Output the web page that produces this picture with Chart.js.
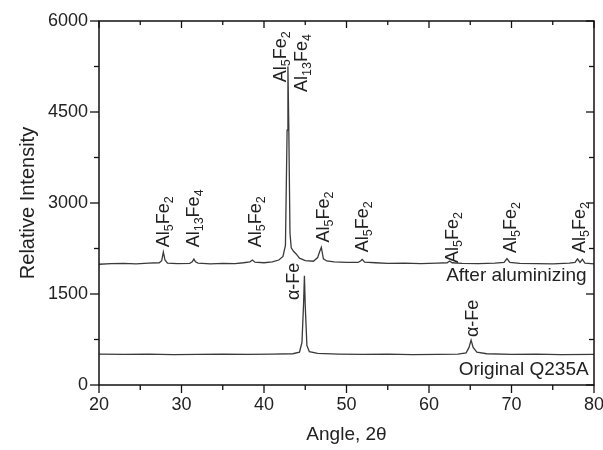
<!DOCTYPE html>
<html>
<head>
<meta charset="utf-8">
<script src="https://cdn.jsdelivr.net/npm/chart.js@4/dist/chart.umd.min.js"></script>
<style>
  html, body { margin: 0; padding: 0; background: #fff; }
  #wrap { width: 603px; height: 450px; position: relative; }
</style>
</head>
<body>
<div id="wrap"><canvas id="xrd"></canvas></div>
<script>
// XRD patterns: Q235A steel before and after aluminizing

const afterAngle = [20, 21.5, 23, 24.5, 26, 27.3, 27.6, 27.8, 28.0, 28.3, 29.5, 31.0, 31.3, 31.5, 31.7, 32.0,
  33.5, 35, 36.5, 37.5, 38.3, 38.6, 38.9, 40.0, 41.0, 41.8, 42.3, 42.6, 42.8, 42.9, 43.0, 43.15, 43.3, 43.6,
  43.9, 44.3, 45.0, 46.0, 46.5, 46.75, 46.95, 47.2, 47.6, 48.5, 50, 51.4, 51.7, 51.9, 52.2, 53.5, 55, 57,
  59, 61, 62.2, 62.5, 62.8, 64, 66, 68, 69.1, 69.45, 69.8, 71, 73, 75, 77, 77.7, 78.0, 78.3, 78.6, 78.9,
  79.3, 80];
const afterIntensity = [1990, 2000, 2005, 1995, 2010, 2015, 2050, 2190, 2060, 2010, 2000, 2005, 2030, 2075, 2030, 2010,
  1995, 2005, 2000, 2015, 2030, 2060, 2025, 2015, 2030, 2060, 2120, 2300, 4200, 5250, 4300, 2500, 2260, 2200,
  2160, 2090, 2050, 2040, 2100, 2200, 2270, 2080, 2045, 2030, 2020, 2020, 2045, 2070, 2025, 2015, 2005, 2010,
  2000, 2010, 2015, 2045, 2015, 2005, 2000, 2010, 2020, 2085, 2020, 2005, 2000, 1995, 2010, 2020, 2080, 2020,
  2070, 2010, 2005, 1995];

const origAngle = [20, 23, 26, 29, 32, 35, 38, 41, 43.5, 44.3, 44.6, 44.8, 44.9, 45.0, 45.2, 45.5, 46.5, 49,
  52, 55, 58, 61, 63.5, 64.5, 64.85, 65.1, 65.35, 65.8, 67, 70, 73, 76, 80];
const origIntensity = [510, 505, 510, 500, 505, 510, 505, 510, 515, 540, 700, 1350, 1800, 1300, 650, 550, 520, 510,
  505, 510, 500, 505, 510, 530, 620, 740, 620, 540, 515, 505, 510, 500, 505];

// tick values
const xMajor = [20, 30, 40, 50, 60, 70, 80];
const xMinor = [25, 35, 45, 55, 65, 75];
const yMajor = [0, 1500, 3000, 4500, 6000];
const yMinor = [750, 2250, 3750, 5250];

// peak labels: angle, intensity at the foot of the text, text (_n = subscript)
const peakAngle     = [27.75, 31.35, 38.9, 41.85, 44.45, 47.1, 51.8, 62.7, 69.7, 78.1, 43.5, 65.1];
const peakIntensity = [2270, 2270, 2270, 4990, 4830, 2350, 2190, 2010, 2175, 2175, 1400, 790];
const peakText      = ['Al_5Fe_2', 'Al_13Fe_4', 'Al_5Fe_2', 'Al_5Fe_2', 'Al_13Fe_4', 'Al_5Fe_2', 'Al_5Fe_2',
  'Al_5Fe_2', 'Al_5Fe_2', 'Al_5Fe_2', 'α-Fe', 'α-Fe'];

// curve names: right edge angle, intensity of text middle
const curveName      = ['After aluminizing', 'Original Q235A'];
const curveNameAngle = [79.1, 79.35];
const curveNameY     = [1800, 250];

const FONT = "'Liberation Sans', Arial, sans-serif";
const INK = '#222';

function toPoints(xs, ys) {
  return xs.map((x, i) => ({ x, y: ys[i] }));
}

/* ── rotated label with subscripts ───────────────────── */
function drawVertLabel(ctx, px, py, spec) {
  const parts = spec.split(/(_\d+)/).filter(p => p.length);
  const cap = 13;
  ctx.save();
  ctx.translate(px, py);
  ctx.rotate(-Math.PI / 2);
  ctx.fillStyle = INK;
  ctx.textBaseline = 'alphabetic';
  ctx.textAlign = 'left';
  let x = 0;
  parts.forEach(p => {
    const sub = p[0] === '_';
    const txt = sub ? p.slice(1) : p;
    ctx.font = (sub ? '12.5px ' : '18px ') + FONT;
    ctx.fillText(txt, x, sub ? cap / 2 + 4 : cap / 2);
    x += ctx.measureText(txt).width;
  });
  ctx.restore();
}

/* ── frame, ticks and annotations ────────────────────── */
const decorPlugin = {
  id: 'decor',
  afterDatasetsDraw(chart) {
    const { ctx, chartArea: a, scales: { x, y } } = chart;
    ctx.save();
    ctx.strokeStyle = '#111';
    ctx.lineWidth = 1.5;
    ctx.strokeRect(a.left, a.top, a.right - a.left, a.bottom - a.top);

    const tick = (x1, y1, x2, y2) => { ctx.beginPath(); ctx.moveTo(x1, y1); ctx.lineTo(x2, y2); ctx.stroke(); };
    ctx.lineWidth = 1.3;
    xMajor.forEach(v => {
      const px = x.getPixelForValue(v);
      tick(px, a.bottom, px, a.bottom + 8);
      tick(px, a.top, px, a.top + 7);
    });
    xMinor.forEach(v => {
      const px = x.getPixelForValue(v);
      tick(px, a.bottom, px, a.bottom + 5);
      tick(px, a.top, px, a.top + 4);
    });
    yMajor.forEach(v => {
      const py = y.getPixelForValue(v);
      tick(a.left - 9, py, a.left, py);
      tick(a.right - 8, py, a.right, py);
    });
    yMinor.forEach(v => {
      const py = y.getPixelForValue(v);
      tick(a.left - 5, py, a.left, py);
      tick(a.right - 5, py, a.right, py);
    });

    peakText.forEach((t, i) => {
      drawVertLabel(ctx, x.getPixelForValue(peakAngle[i]), y.getPixelForValue(peakIntensity[i]), t);
    });

    ctx.fillStyle = INK;
    ctx.font = '19px ' + FONT;
    ctx.textAlign = 'right';
    ctx.textBaseline = 'middle';
    curveName.forEach((n, i) => {
      ctx.fillText(n, x.getPixelForValue(curveNameAngle[i]), y.getPixelForValue(curveNameY[i]));
    });
    ctx.restore();
  },
};

const lineStyle = {
  borderColor: '#3a3a3a',
  borderWidth: 1.3,
  pointRadius: 0,
  tension: 0,
  fill: false,
};

new Chart(document.getElementById('xrd'), {
  type: 'line',
  data: {
    datasets: [
      { label: 'After aluminizing', data: toPoints(afterAngle, afterIntensity), ...lineStyle },
      { label: 'Original Q235A', data: toPoints(origAngle, origIntensity), ...lineStyle },
    ],
  },
  options: {
    responsive: true,
    maintainAspectRatio: false,
    animation: false,
    layout: { padding: { top: 21, right: 9, left: 0, bottom: 0 } },
    plugins: { legend: { display: false }, tooltip: { enabled: false } },
    scales: {
      x: {
        type: 'linear',
        min: 20, max: 80,
        grid: { display: false, drawTicks: false },
        border: { display: false },
        ticks: { stepSize: 10, color: INK, padding: 9, font: { family: FONT, size: 18 } },
        title: { display: true, text: 'Angle, 2θ', color: INK, font: { family: FONT, size: 19 }, padding: { top: 0, bottom: 4 } },
        afterFit: s => { s.height = 65; s.paddingLeft = 0; s.paddingRight = 0; },
      },
      y: {
        min: 0, max: 6000,
        grid: { display: false, drawTicks: false },
        border: { display: false },
        ticks: {
          stepSize: 1500, color: INK, padding: 11, font: { family: FONT, size: 18 },
          callback: v => String(v),
        },
        title: { display: true, text: 'Relative Intensity', color: INK, font: { family: FONT, size: 20 }, padding: { top: 16, bottom: 0 } },
        afterFit: s => { s.width = 99; s.paddingTop = 0; s.paddingBottom = 0; },
      },
    },
  },
  plugins: [decorPlugin],
});
</script>
</body>
</html>
